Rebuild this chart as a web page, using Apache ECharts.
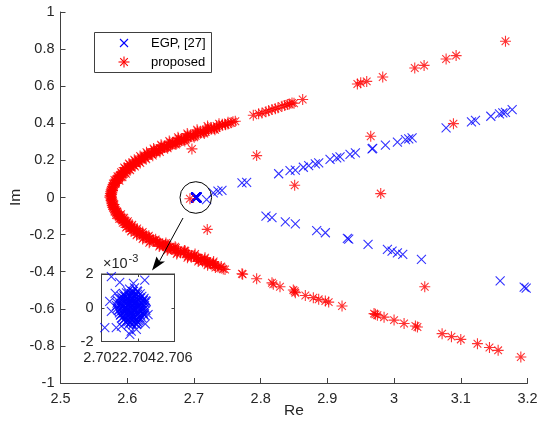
<!DOCTYPE html>
<html><head><meta charset="utf-8">
<script src="https://cdn.jsdelivr.net/npm/echarts@6/dist/echarts.min.js"></script>
<style>html,body{margin:0;padding:0;background:#fff}#c{width:537px;height:427px}</style>
</head><body><div id="c"></div>
<script>
// ---- data ----
const seriesNames = ['EGP, [27]', 'proposed'];
const xTicksMain = [2.5, 2.6, 2.7, 2.8, 2.9, 3.0, 3.1, 3.2];
const yTicksMain = [-1, -0.8, -0.6, -0.4, -0.2, 0, 0.2, 0.4, 0.6, 0.8, 1];
const xTicksInset = [2.702, 2.704, 2.706];
const yTicksInset = [-0.002, 0, 0.002];

const egpCluster = [
[2.70362,0.00002],[2.70371,0.00021],[2.70348,-0.00018],[2.70385,-0.00009],[2.70330,0.00035],[2.70356,0.00048],
[2.70392,0.00041],[2.70340,-0.00044],[2.70378,-0.00052],[2.70318,0.00005],[2.70405,0.00012],[2.70366,-0.00031],
[2.70325,-0.00022],[2.70399,-0.00036],[2.70351,0.00068],[2.70383,0.00074],[2.70312,0.00052],[2.70415,-0.00018],
[2.70337,0.00088],[2.70369,0.00095],[2.70397,0.00079],[2.70306,-0.00040],[2.70358,-0.00065],[2.70388,-0.00073],
[2.70420,0.00030],[2.70329,-0.00066],[2.70410,-0.00058],[2.70344,0.00019],[2.70375,0.00058],[2.70301,0.00022],
[2.70425,0.00001],[2.70361,-0.00088],[2.70392,-0.00095],[2.70323,0.00070],[2.70354,0.00110],[2.70381,0.00118],
[2.70410,0.00060],[2.70298,-0.00012],[2.70432,-0.00040],[2.70345,-0.00082],[2.70373,-0.00012],[2.70352,0.00031],
[2.70364,0.00084],[2.70402,-0.00076],[2.70316,-0.00058],[2.70429,0.00045],[2.70338,0.00052],[2.70386,0.00026],
[2.70358,-0.00047],[2.70395,0.00100],[2.70335,-0.00005],[2.70372,0.00036],
[2.70254,0.00184],[2.70437,0.00164],[2.70300,0.00150],[2.70375,0.00145],[2.70218,-0.00118],[2.70281,-0.00118],
[2.70309,-0.00109],[2.70355,-0.00158],[2.70363,-0.00138],[2.70391,-0.00128],[2.70455,-0.00041],[2.70445,0.00038],
[2.70245,0.00038],[2.70254,-0.00021],[2.70275,0.00085],[2.70440,-0.00095]
];
const egpClusterCore = [
[2.70345,0.00095],[2.70372,0.00095],[2.70398,0.00095],
[2.70322,0.00082],[2.70349,0.00082],[2.70366,0.00082],[2.70388,0.00082],[2.70412,0.00082],
[2.70308,0.00068],[2.70331,0.00068],[2.70357,0.00068],[2.70379,0.00068],[2.70401,0.00068],[2.70421,0.00068],
[2.70296,0.00055],[2.70321,0.00055],[2.70343,0.00055],[2.70364,0.00055],[2.70391,0.00055],[2.70414,0.00055],[2.70433,0.00055],
[2.70289,0.00041],[2.70313,0.00041],[2.70338,0.00041],[2.70361,0.00041],[2.70381,0.00041],[2.70406,0.00041],[2.70427,0.00041],[2.70441,0.00041],
[2.70285,0.00027],[2.70309,0.00027],[2.70332,0.00027],[2.70354,0.00027],[2.70377,0.00027],[2.70399,0.00027],[2.70419,0.00027],[2.70438,0.00027],
[2.70282,0.00013],[2.70304,0.00013],[2.70326,0.00013],[2.70348,0.00013],[2.70371,0.00013],[2.70393,0.00013],[2.70415,0.00013],[2.70436,0.00013],
[2.70287,-0.00002],[2.70309,-0.00002],[2.70331,-0.00002],[2.70352,-0.00002],[2.70376,-0.00002],[2.70397,-0.00002],[2.70418,-0.00002],[2.70440,-0.00002],
[2.70292,-0.00016],[2.70314,-0.00016],[2.70337,-0.00016],[2.70359,-0.00016],[2.70382,-0.00016],[2.70403,-0.00016],[2.70424,-0.00016],[2.70443,-0.00016],
[2.70298,-0.00030],[2.70321,-0.00030],[2.70343,-0.00030],[2.70365,-0.00030],[2.70387,-0.00030],[2.70408,-0.00030],[2.70429,-0.00030],
[2.70304,-0.00044],[2.70327,-0.00044],[2.70349,-0.00044],[2.70371,-0.00044],[2.70393,-0.00044],[2.70414,-0.00044],[2.70434,-0.00044],
[2.70312,-0.00058],[2.70335,-0.00058],[2.70356,-0.00058],[2.70378,-0.00058],[2.70399,-0.00058],[2.70421,-0.00058],
[2.70321,-0.00072],[2.70344,-0.00072],[2.70366,-0.00072],[2.70387,-0.00072],[2.70409,-0.00072],
[2.70333,-0.00086],[2.70356,-0.00086],[2.70378,-0.00086],[2.70398,-0.00086],
[2.70348,-0.00100],[2.70372,-0.00100],[2.70392,-0.00100]
];
const egpUpper = [
[2.719,-0.011],[2.729,0.025],[2.736,0.034],[2.742,0.039],[2.772,0.079],[2.779,0.082],
[2.827,0.128],[2.844,0.145],[2.852,0.147],[2.864,0.163],[2.872,0.172],[2.882,0.181],[2.887,0.187],
[2.904,0.205],[2.914,0.214],[2.919,0.219],[2.934,0.232],[2.942,0.241],[2.967,0.262],[2.968,0.265],
[2.987,0.282],[3.005,0.298],[3.017,0.312],[3.022,0.316],[3.027,0.321],[3.078,0.375],
[3.116,0.408],[3.122,0.416],[3.145,0.438],[3.158,0.451],[3.163,0.456],[3.167,0.459],[3.177,0.474]
];
const egpLower = [
[2.808,-0.101],[2.817,-0.108],[2.837,-0.131],[2.852,-0.142],[2.884,-0.178],[2.897,-0.190],
[2.930,-0.220],[2.932,-0.224],[2.961,-0.253],[2.990,-0.280],[2.997,-0.289],[3.005,-0.298],
[3.013,-0.307],[3.041,-0.334],[3.159,-0.450],[3.195,-0.483],[3.198,-0.488]
];

const propBandUpper = [
[2.5740,0.002],[2.5760,0.006],[2.5745,0.011],[2.5765,0.015],[2.5748,0.021],[2.5770,0.026],[2.5752,0.031],
[2.5775,0.035],[2.5760,0.041],[2.5782,0.046],[2.5768,0.051],[2.5790,0.055],[2.5778,0.061],[2.5801,0.066],
[2.5792,0.071],[2.5815,0.075],[2.5808,0.081],[2.5830,0.085],[2.5826,0.091],[2.5850,0.095],[2.5847,0.101],
[2.5872,0.105],[2.5869,0.111],[2.5895,0.115],[2.5894,0.121],[2.5920,0.125],[2.5921,0.131],[2.5950,0.135],
[2.5950,0.141],[2.5980,0.145],[2.5982,0.151],[2.6014,0.155],[2.6015,0.161],[2.6050,0.165],[2.6050,0.171],
[2.6088,0.175],[2.6088,0.181],[2.6128,0.185],[2.6128,0.191],[2.6170,0.195],[2.6170,0.201],[2.6214,0.205],
[2.6214,0.211],[2.6260,0.215],[2.6262,0.221],[2.6308,0.225],[2.6310,0.231],[2.6360,0.235],[2.6362,0.241],
[2.6412,0.245],[2.6415,0.251],[2.6470,0.256],[2.6528,0.264],[2.6590,0.272],[2.6650,0.281],[2.6712,0.290],
[2.6780,0.300],[2.6846,0.310],[2.6915,0.321],[2.6988,0.331],[2.7060,0.342],[2.7138,0.352],[2.7218,0.362],
[2.7300,0.372],[2.7383,0.383],[2.7468,0.393],[2.7555,0.403],[2.7620,0.411],
[2.6440,0.244],[2.6500,0.262],[2.6560,0.270],[2.6620,0.276],[2.6680,0.288],[2.6745,0.292],[2.6812,0.306],
[2.6880,0.313],[2.6950,0.327],[2.7025,0.333],[2.7100,0.346],[2.7178,0.354],[2.7258,0.368],[2.7340,0.375],
[2.7425,0.389],[2.7510,0.396],[2.7585,0.409]
];
const propBandUpperInner = [
[2.5766,0.019],[2.5779,0.038],[2.5800,0.057],[2.5828,0.076],[2.5866,0.095],[2.5912,0.1145],[2.5967,0.134],
[2.6030,0.154],[2.6103,0.1735],[2.6184,0.193],[2.6274,0.213],[2.6372,0.233],[2.6480,0.253],[2.6597,0.273],
[2.6721,0.2925],[2.6855,0.3125],[2.6996,0.3325],[2.7148,0.3525],[2.7308,0.3725],[2.7475,0.392],
[2.5884,0.090],[2.5929,0.109],[2.5982,0.128],[2.6044,0.1475],[2.6116,0.167],[2.6196,0.1864],[2.6285,0.206],
[2.6383,0.2257],[2.6490,0.2455],[2.6606,0.2653],[2.6730,0.2851],[2.6863,0.305],[2.7004,0.3249],[2.7155,0.3448],
[2.7315,0.3647]
];
const propBandUpperOuter = [
[2.5808,0.0945],[2.5854,0.1152],[2.5907,0.1357],[2.5969,0.1562],[2.6039,0.1765],[2.6118,0.1967],[2.6205,0.2169],
[2.6300,0.2371],[2.6405,0.2572],[2.6517,0.2774],[2.6639,0.2974],[2.6769,0.3175],[2.6908,0.3375],[2.7055,0.3576],
[2.7211,0.3776],[2.7376,0.3977],
[2.6442,0.255],[2.6498,0.265],[2.6557,0.275],[2.6617,0.285],[2.6680,0.295],[2.6745,0.305],[2.6812,0.315],
[2.6881,0.325],[2.6952,0.335],[2.7025,0.345],[2.7101,0.355],[2.7179,0.365],[2.7259,0.375],[2.7341,0.385],
[2.7425,0.395],[2.7511,0.405],
[2.5954,0.1620],[2.6026,0.1828],[2.6106,0.2034],[2.6193,0.2238],[2.6289,0.2442],[2.6395,0.2645],[2.6507,0.2847],
[2.6630,0.3048],[2.6761,0.3250],[2.6900,0.3451],[2.7047,0.3652],[2.7204,0.3853]
];
const propBandLower = [
[2.5755,-0.004],[2.5770,-0.009],[2.5758,-0.014],[2.5775,-0.019],[2.5762,-0.024],[2.5782,-0.029],[2.5768,-0.034],
[2.5790,-0.039],[2.5776,-0.044],[2.5800,-0.049],[2.5786,-0.054],[2.5812,-0.059],[2.5800,-0.064],[2.5826,-0.069],
[2.5815,-0.074],[2.5843,-0.079],[2.5833,-0.084],[2.5862,-0.089],[2.5852,-0.094],[2.5884,-0.099],[2.5874,-0.104],
[2.5908,-0.109],[2.5898,-0.114],[2.5935,-0.119],[2.5925,-0.124],[2.5964,-0.129],[2.5955,-0.134],[2.5995,-0.139],
[2.5988,-0.144],[2.6030,-0.149],[2.6022,-0.154],[2.6066,-0.159],[2.6060,-0.164],[2.6105,-0.169],[2.6100,-0.174],
[2.6146,-0.179],[2.6142,-0.184],[2.6190,-0.189],[2.6187,-0.194],[2.6236,-0.199],[2.6234,-0.204],[2.6284,-0.209],
[2.6284,-0.214],[2.6335,-0.219],[2.6336,-0.224],[2.6390,-0.229],[2.6392,-0.234],[2.6447,-0.239],[2.6450,-0.244],
[2.6508,-0.250],[2.6570,-0.258],[2.6634,-0.266],[2.6700,-0.275],[2.6766,-0.284],[2.6850,-0.296],[2.6920,-0.306],
[2.6990,-0.316],[2.7040,-0.325],[2.7100,-0.334],[2.7165,-0.343],[2.7240,-0.355],[2.7316,-0.366],[2.7390,-0.379],
[2.7466,-0.388],
[2.6480,-0.241],[2.6540,-0.262],[2.6600,-0.255],[2.6670,-0.280],[2.6730,-0.272],[2.6800,-0.298],[2.6870,-0.288],
[2.6960,-0.322],[2.7070,-0.326],[2.7130,-0.347],[2.7200,-0.343],[2.7280,-0.357]
];
const propBandLowerInner = [
[2.5786,-0.019],[2.5800,-0.038],[2.5821,-0.057],[2.5851,-0.076],[2.5890,-0.095],[2.5937,-0.1145],[2.5995,-0.134],
[2.6061,-0.154],[2.6136,-0.1735],[2.6220,-0.193],[2.6313,-0.213],[2.6415,-0.233],[2.6575,-0.253],[2.6700,-0.273],
[2.6850,-0.2925],[2.7010,-0.3125],[2.7160,-0.3325],[2.7290,-0.3525],[2.7410,-0.3725],
[2.5908,-0.090],[2.5954,-0.109],[2.6010,-0.128],[2.6075,-0.1475],[2.6149,-0.167],[2.6232,-0.1864],[2.6324,-0.206],
[2.6426,-0.2257],[2.6580,-0.2455],[2.6719,-0.2653],[2.6858,-0.2851],[2.7017,-0.305],[2.7166,-0.3249],[2.7295,-0.3448]
];
const propBandLowerOuter = [
[2.5832,-0.0945],[2.5879,-0.1152],[2.5933,-0.1357],[2.5998,-0.1562],[2.6071,-0.1765],[2.6152,-0.1967],[2.6243,-0.2169],
[2.6341,-0.2371],[2.6490,-0.2572],[2.6610,-0.2774],[2.6751,-0.2974],[2.6911,-0.3175],[2.7072,-0.3375],[2.7212,-0.3576],
[2.7322,-0.3776],
[2.6530,-0.255],[2.6590,-0.265],[2.6650,-0.275],[2.6720,-0.285],[2.6800,-0.295],[2.6880,-0.305],[2.6960,-0.315],
[2.7040,-0.325],[2.7110,-0.335],[2.7180,-0.345],[2.7240,-0.355],[2.7300,-0.365],[2.7360,-0.375],[2.7440,-0.385],
[2.5983,-0.162],[2.6058,-0.1828],[2.6140,-0.2034],[2.6231,-0.2238],[2.6330,-0.2442],[2.6480,-0.2645],[2.6600,-0.2847],
[2.6742,-0.3048],[2.6903,-0.325],[2.7064,-0.3451],[2.7204,-0.3652]
];
const propUpperTail = [
[2.789,0.443],[2.797,0.452],[2.802,0.456],[2.808,0.462],[2.812,0.468],[2.817,0.474],[2.822,0.479],
[2.826,0.484],[2.832,0.492],[2.836,0.496],[2.840,0.501],[2.843,0.504],[2.847,0.510],[2.850,0.508],
[2.863,0.528],[2.945,0.612],[2.950,0.618],[2.959,0.626],[2.983,0.650],[3.031,0.698],[3.045,0.712],
[3.078,0.747],[3.093,0.765],[3.167,0.842]
];
const propLowerTail = [
[2.772,-0.411],[2.773,-0.414],[2.794,-0.438],[2.817,-0.460],[2.819,-0.468],[2.829,-0.481],[2.849,-0.499],
[2.851,-0.505],[2.852,-0.513],[2.867,-0.528],[2.879,-0.540],[2.887,-0.549],[2.897,-0.558],[2.902,-0.564],
[2.922,-0.585],[2.970,-0.626],[2.972,-0.630],[2.975,-0.635],[2.985,-0.645],[3.000,-0.661],[3.015,-0.679],
[3.032,-0.693],[3.035,-0.698],[3.072,-0.734],[3.086,-0.750],[3.100,-0.765],[3.125,-0.788],[3.143,-0.809],
[3.156,-0.824],[3.190,-0.860]
];
const propStray = [
[2.697,0.262],[2.794,0.226],[2.851,0.066],[2.694,-0.007],[2.720,-0.172],[2.965,0.330],[2.980,0.021],
[3.089,0.398],[3.046,-0.481]
];

const egpData = egpCluster.concat(egpClusterCore, egpUpper, egpLower);
const propData = propBandUpper.concat(propBandUpperInner, propBandUpperOuter, propBandLower,
  propBandLowerInner, propBandLowerOuter, propUpperTail, propLowerTail, propStray);

// ---- style ----
const FONT = '"Liberation Sans", Arial, Helvetica, sans-serif';
const AX = '#404040';
const TXT = '#262626';
const crossD = 'M-10,-10L10,10M-10,10L10,-10';
const starD = 'M0,-10L0,10M-10,0L10,0M-7,-7L7,7M-7,7L7,-7';
const LW = 1.1;

function axisCommon(extra) {
  return Object.assign({
    type: 'value',
    splitLine: { show: false },
    axisLine: { show: true, onZero: false, lineStyle: { color: AX, width: 1 } },
    axisTick: { show: true, inside: true, length: 5, lineStyle: { color: AX, width: 1 } },
    axisLabel: { color: TXT, fontFamily: FONT, fontSize: 14.5 },
    nameMoveOverlap: false
  }, extra);
}
function seg(x1, y1, x2, y2, color) {
  return { type: 'line', shape: { x1: x1, y1: y1, x2: x2, y2: y2 }, style: { stroke: color, lineWidth: LW }, z: 101 };
}

const chart = echarts.init(document.getElementById('c'), null, { renderer: 'canvas' });
const option = {
  animation: false,
  backgroundColor: '#fff',
  grid: [
    { left: 60.5, top: 12, width: 467, height: 371, containLabel: false, outerBoundsMode: 'none' },
    { left: 101.5, top: 274, width: 73, height: 67.5, containLabel: false, outerBoundsMode: 'none',
      show: true, borderColor: AX, borderWidth: 1, backgroundColor: '#fff', z: 5 }
  ],
  xAxis: [
    axisCommon({ gridIndex: 0, min: xTicksMain[0], max: xTicksMain[xTicksMain.length - 1], interval: 0.1,
      name: 'Re', nameLocation: 'middle', nameGap: 20,
      nameTextStyle: { color: TXT, fontFamily: FONT, fontSize: 15.5 },
      axisLabel: { color: TXT, fontFamily: FONT, fontSize: 14.5, margin: 8 } }),
    axisCommon({ gridIndex: 1, min: xTicksInset[0], max: xTicksInset[2], interval: 0.002, z: 6,
      axisTick: { show: true, inside: true, length: 3, lineStyle: { color: AX } },
      axisLabel: { color: TXT, fontFamily: FONT, fontSize: 14.5, margin: 9, hideOverlap: false,
        showMinLabel: true, showMaxLabel: true, formatter: v => v.toFixed(3) } }),
    axisCommon({ gridIndex: 1, position: 'top', min: xTicksInset[0], max: xTicksInset[2], interval: 0.002, z: 6,
      axisTick: { show: true, inside: true, length: 3, lineStyle: { color: AX } },
      axisLabel: { show: false } })
  ],
  yAxis: [
    axisCommon({ gridIndex: 0, min: yTicksMain[0], max: yTicksMain[yTicksMain.length - 1], interval: 0.2,
      name: 'Im', nameLocation: 'middle', nameGap: 37,
      nameTextStyle: { color: TXT, fontFamily: FONT, fontSize: 15.5 },
      axisLabel: { color: TXT, fontFamily: FONT, fontSize: 14.5, margin: 6,
        formatter: v => String(Math.round(v * 10) / 10) } }),
    axisCommon({ gridIndex: 1, min: yTicksInset[0], max: yTicksInset[2], interval: 0.002, z: 6,
      axisTick: { show: true, inside: true, length: 3, lineStyle: { color: AX } },
      axisLabel: { color: TXT, fontFamily: FONT, fontSize: 14.5, margin: 8,
        formatter: v => String(Math.round(v * 1000)) } }),
    axisCommon({ gridIndex: 1, position: 'right', min: yTicksInset[0], max: yTicksInset[2], interval: 0.002, z: 6,
      axisTick: { show: true, inside: true, length: 3, lineStyle: { color: AX } },
      axisLabel: { show: false } })
  ],
  legend: { show: false, data: seriesNames },
  series: [
    { name: seriesNames[0], type: 'scatter', xAxisIndex: 0, yAxisIndex: 0, data: egpData,
      symbol: 'path://' + crossD, symbolSize: 9, symbolKeepAspect: true,
      itemStyle: { color: 'none', borderColor: '#0000ff', borderWidth: LW } },
    { name: seriesNames[1], type: 'scatter', xAxisIndex: 0, yAxisIndex: 0, data: propData,
      symbol: 'path://' + starD, symbolSize: 11, symbolKeepAspect: true,
      itemStyle: { color: 'none', borderColor: '#ff0000', borderWidth: LW } },
    { name: seriesNames[0], type: 'scatter', xAxisIndex: 1, yAxisIndex: 1, data: egpData, clip: true, z: 7,
      symbol: 'path://' + crossD, symbolSize: 9, symbolKeepAspect: true,
      itemStyle: { color: 'none', borderColor: '#0000ff', borderWidth: LW } }
  ],
  graphic: [
    // legend box
    { type: 'rect', shape: { x: 94.5, y: 32.5, width: 117, height: 40 }, style: { fill: '#fff', stroke: AX, lineWidth: 1 }, z: 100 },
    seg(120, 39, 128, 47, '#0000ff'), seg(120, 47, 128, 39, '#0000ff'),
    seg(124, 56.5, 124, 67.5, '#ff0000'), seg(118.5, 62, 129.5, 62, '#ff0000'),
    seg(120.2, 58.2, 127.8, 65.8, '#ff0000'), seg(120.2, 65.8, 127.8, 58.2, '#ff0000'),
    { type: 'text', x: 151, y: 43, style: { text: seriesNames[0], fill: '#000', font: '13px ' + FONT, verticalAlign: 'middle' }, z: 101 },
    { type: 'text', x: 151, y: 62, style: { text: seriesNames[1], fill: '#000', font: '13px ' + FONT, verticalAlign: 'middle' }, z: 101 },
    // annotation
    { type: 'circle', shape: { cx: 195.8, cy: 197.5, r: 15.8 }, style: { fill: 'none', stroke: '#000', lineWidth: 1 }, z: 100 },
    { type: 'line', shape: { x1: 183, y1: 218, x2: 159, y2: 262 }, style: { stroke: '#000', lineWidth: 1 }, z: 100 },
    { type: 'polygon', shape: { points: [[152, 270.5], [156.5, 256.5], [159.5, 261.5], [165, 261.5]] }, style: { fill: '#000' }, z: 100 },
    { type: 'text', x: 103, y: 264, style: { text: '×10', fill: TXT, font: '14.5px ' + FONT, verticalAlign: 'middle' }, z: 100 },
    { type: 'text', x: 128.5, y: 259, style: { text: '-3', fill: TXT, font: '11px ' + FONT, verticalAlign: 'middle' }, z: 100 }
  ]
};
chart.setOption(option);
</script>
</body></html>
